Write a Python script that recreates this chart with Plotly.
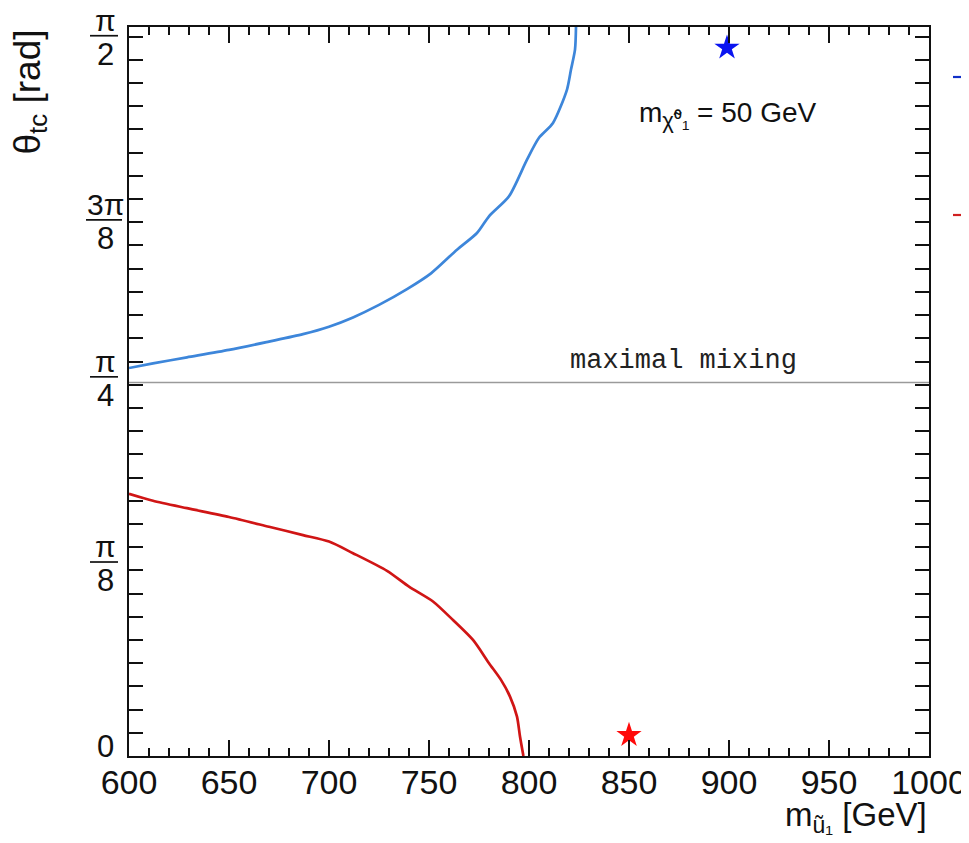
import math
import plotly.graph_objects as go

# ---- data ----
blue_mass = [600, 612, 629, 650, 670, 687, 700, 712, 725, 739, 751, 764, 774, 780, 790, 799, 805, 812, 819, 821, 823, 823.5]
blue_theta = [0.836, 0.846, 0.859, 0.875, 0.893, 0.909, 0.925, 0.945, 0.972, 1.006, 1.040, 1.091, 1.127, 1.163, 1.206, 1.285, 1.332, 1.364, 1.436, 1.479, 1.522, 1.571]

red_mass = [600, 612, 629, 650, 670, 687, 700, 712, 729, 740, 752, 762, 772, 780, 786, 790.5, 794, 795.5, 797.2]
red_theta = [0.565, 0.550, 0.534, 0.515, 0.494, 0.476, 0.462, 0.437, 0.399, 0.365, 0.333, 0.293, 0.250, 0.200, 0.164, 0.128, 0.085, 0.042, 0.0]

blue_star_mass = [899]
blue_star_theta = [1.526]
red_star_mass = [850]
red_star_theta = [0.045]

maximal_mixing_theta = 0.805

x_tick_vals = [600, 650, 700, 750, 800, 850, 900, 950, 1000]
y_label_num = ["π", "3π", "π", "π"]
y_label_den = ["2", "8", "4", "8"]
y_label_pos = [1.552, 1.155, 0.817, 0.418]

# ---- layout helpers (screen pixel -> paper); the page body adds an 8px offset ----
OFF = 8
W, H = 969 - OFF, 843 - OFF
L, R, T, B = 129, 929, 27, 756          # plot area in screen pixels
def px(x):
    return (x - L) / (R - L)
def py(y):
    return (B - y) / (B - T)

fig = go.Figure()

fig.add_trace(go.Scatter(x=blue_mass, y=blue_theta, mode="lines",
                         line=dict(color="#3d86da", width=2.7, shape="spline", smoothing=0.7),
                         showlegend=False))
fig.add_trace(go.Scatter(x=red_mass, y=red_theta, mode="lines",
                         line=dict(color="#d01515", width=2.7, shape="spline", smoothing=0.7),
                         showlegend=False))
fig.add_trace(go.Scatter(x=blue_star_mass, y=blue_star_theta, mode="markers",
                         marker=dict(symbol="star", size=19, color="#0a14f0"), showlegend=False))
fig.add_trace(go.Scatter(x=red_star_mass, y=red_star_theta, mode="markers",
                         marker=dict(symbol="star", size=19, color="#ff0a0a"), showlegend=False))

# maximal mixing line
fig.add_shape(type="line", xref="x", yref="y", x0=600, x1=1000,
              y0=maximal_mixing_theta, y1=maximal_mixing_theta,
              line=dict(color="#9a9a9a", width=1.5))
fig.add_annotation(x=935, y=maximal_mixing_theta, xref="x", yref="y",
                   text="maximal mixing", showarrow=False, xanchor="right", yanchor="bottom",
                   yshift=4,
                   font=dict(family="Liberation Mono, Courier New, monospace", size=27, color="#222"))

# mass annotation
fig.add_annotation(x=px(637), y=py(115), xref="paper", yref="paper", xanchor="left", yanchor="middle",
                   text="m<sub><span style='font-size:22px'>χ̃⁰₁</span></sub> = 50 GeV", showarrow=False,
                   font=dict(family="Liberation Sans, Arial, sans-serif", size=28, color="#111"))

# y fraction labels
lab_font = dict(family="Liberation Sans, Arial, sans-serif", size=31, color="#111")
num_font = dict(family="Liberation Sans, Arial, sans-serif", size=30, color="#111")
for num, den, v in zip(y_label_num, y_label_den, y_label_pos):
    ypix = B - v * (B - T) / (math.pi / 2)
    fig.add_annotation(x=px(105), y=py(ypix), xref="paper", yref="paper", text=num,
                       showarrow=False, xanchor="center", yanchor="bottom", yshift=-2,
                       borderpad=0, font=num_font)
    fig.add_annotation(x=px(105), y=py(ypix), xref="paper", yref="paper", text=den,
                       showarrow=False, xanchor="center", yanchor="top", yshift=1, font=lab_font)
    w = 18 if len(num) > 1 else 14
    fig.add_shape(type="line", xref="paper", yref="paper", x0=px(104 - w), x1=px(104 + w),
                  y0=py(ypix), y1=py(ypix), line=dict(color="#111", width=1.7))
fig.add_annotation(x=px(105), y=py(746), xref="paper", yref="paper", text="0",
                   showarrow=False, xanchor="center", yanchor="middle", font=lab_font)

# axis titles
fig.add_annotation(x=px(30), y=py(28), xref="paper", yref="paper", text="θ<sub>tc</sub> [rad]",
                   textangle=-90, showarrow=False, xanchor="center", yanchor="top",
                   font=dict(family="Liberation Sans, Arial, sans-serif", size=37, color="#111"))
fig.add_annotation(x=px(929), y=py(817), xref="paper", yref="paper", text="m<sub>ũ₁</sub> [GeV]",
                   showarrow=False, xanchor="right", yanchor="middle",
                   font=dict(family="Liberation Sans, Arial, sans-serif", size=33, color="#111"))

# truncated legend marks at the right edge
fig.add_shape(type="line", xref="paper", yref="paper", x0=px(953), x1=px(975), y0=py(77), y1=py(77),
              line=dict(color="#1030c8", width=2.2))
fig.add_shape(type="line", xref="paper", yref="paper", x0=px(953), x1=px(975), y0=py(215), y1=py(215),
              line=dict(color="#d02020", width=2.2))

fig.update_layout(
    width=W, height=H,
    margin=dict(l=L - OFF, r=969 - R, t=T - OFF, b=843 - B, autoexpand=False),
    paper_bgcolor="white", plot_bgcolor="white",
    showlegend=False,
    xaxis=dict(range=[600, 1000], tickvals=x_tick_vals, ticks="inside", ticklen=16, tickwidth=1.5,
               tickcolor="#111", showline=True, linecolor="#111", linewidth=1.5, mirror="ticks",
               showgrid=False, zeroline=False, automargin=False, ticklabelstandoff=-5,
               tickfont=dict(family="Liberation Sans, Arial, sans-serif", size=34, color="#111"),
               minor=dict(dtick=10, ticks="inside", ticklen=8, tickwidth=1.5, tickcolor="#111", showgrid=False)),
    yaxis=dict(range=[0, math.pi / 2], dtick=0.05, tick0=0, ticks="inside", ticklen=14, tickwidth=1.5,
               tickcolor="#111", showline=True, linecolor="#111", linewidth=1.5, mirror="ticks",
               showgrid=False, zeroline=False, showticklabels=False, automargin=False),
)

fig.write_html("out.html")
